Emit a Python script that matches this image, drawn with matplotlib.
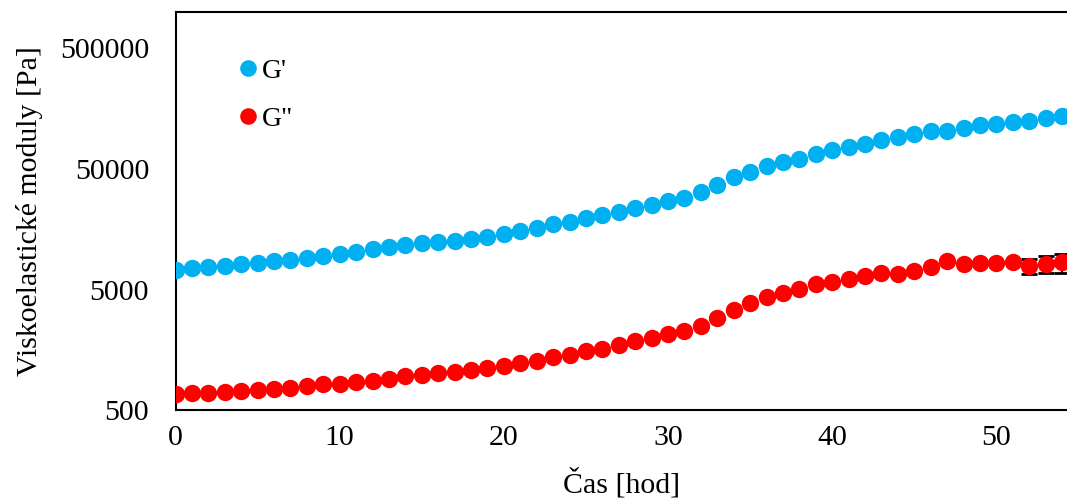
import numpy as np
import matplotlib
matplotlib.use("Agg")
import matplotlib.pyplot as plt
from matplotlib.ticker import FixedLocator, NullLocator

plt.rcParams['font.family'] = ['Liberation Serif', 'DejaVu Serif']

# time in hours
cas = list(range(0, 55))

# storage modulus G' [Pa]
g_prime = [7230, 7510, 7650, 7800, 8100, 8260, 8580, 8750, 9080, 9440,
           9800, 10190, 10790, 11200, 11640, 12100, 12330, 12560, 13050, 13560,
           14360, 15210, 16100, 17380, 18070, 19500, 20650, 21860, 23600, 24960,
           26970, 28530, 32000, 36560, 42600, 46850, 52550, 56740, 60100, 66100,
           71300, 75500, 79950, 86300, 91400, 96800, 102500, 103000, 108500, 114900,
           117200, 121600, 124000, 131300, 136400]

# loss modulus G'' [Pa]
g_double = [679, 691, 691, 705, 718, 732, 747, 761, 791, 821,
            821, 853, 870, 903, 956, 975, 1013, 1032, 1073, 1114,
            1157, 1225, 1273, 1375, 1428, 1541, 1600, 1728, 1866, 1976,
            2132, 2259, 2483, 2890, 3370, 3848, 4317, 4657, 5029, 5533,
            5746, 6087, 6447, 6827, 6780, 7094, 7650, 8576, 8100, 8260,
            8260, 8415, 7800, 8100, 8415]

# error bars (only last three points have visible ones)
g_double_err = [0] * 52 + [1100, 1300, 1500]

yticks = [500, 5000, 50000, 500000]

fs = 21.5

fig = plt.figure(figsize=(10.67, 4.99), dpi=100)
ax = fig.add_axes([0.1645, 0.178, 0.8355, 0.798])

ax.errorbar(cas, g_double, yerr=g_double_err, fmt='none', ecolor='black',
            elinewidth=1.5, capsize=6, capthick=2, zorder=2)
ax.plot(cas, g_prime, 'o', color='#00B0F0', markersize=11.5, label="G'", zorder=3)
ax.plot(cas, g_double, 'o', color='#FF0000', markersize=11.5, label='G"', zorder=3)

ax.set_yscale('log')
ax.set_ylim(500, 1e6)
ax.set_xlim(0, 54.3)
ax.yaxis.set_major_locator(FixedLocator(yticks))
ax.yaxis.set_minor_locator(NullLocator())
ax.set_yticklabels([str(v) for v in yticks])
ax.set_xticks([0, 10, 20, 30, 40, 50])

ax.tick_params(axis='both', length=0, labelsize=fs)
ax.tick_params(axis='y', pad=19)
ax.tick_params(axis='x', pad=11)

for s in ['left', 'bottom', 'top']:
    ax.spines[s].set_linewidth(1.5)
ax.spines['right'].set_visible(False)

ax.set_xlabel('Čas [hod]', fontsize=fs, labelpad=12)
ax.set_ylabel('Viskoelastické moduly [Pa]', fontsize=fs, labelpad=12)

leg = ax.legend(loc='upper left', bbox_to_anchor=(0.038, 0.947), frameon=False,
                fontsize=20, handletextpad=0.0, labelspacing=0.82,
                markerscale=0.95, handlelength=1.0)

fig.savefig('out.png', dpi=100)
